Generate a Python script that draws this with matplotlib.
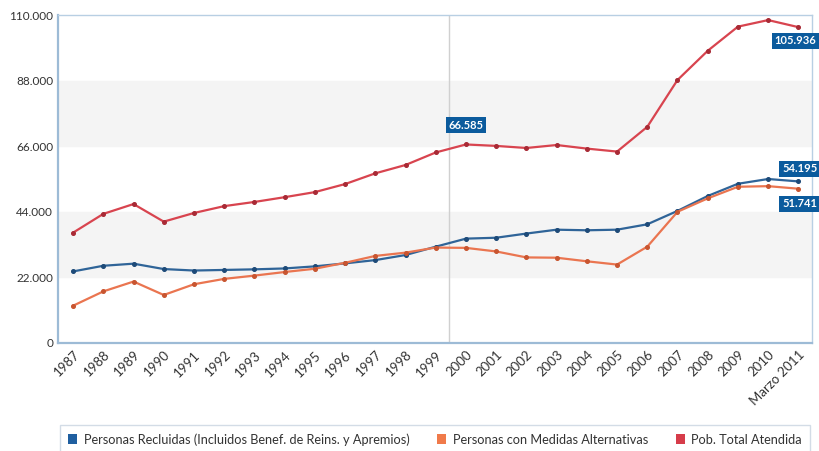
import matplotlib.pyplot as plt
from matplotlib.ticker import FuncFormatter
from matplotlib.patches import Patch

plt.rcParams['font.family'] = ['Lato', 'DejaVu Sans']

years = ['1987', '1988', '1989', '1990', '1991', '1992', '1993', '1994', '1995',
         '1996', '1997', '1998', '1999', '2000', '2001', '2002', '2003', '2004',
         '2005', '2006', '2007', '2008', '2009', '2010', 'Marzo 2011']

recluidas = [24000, 25900, 26600, 24800, 24300, 24500, 24700, 25000, 25700,
             26700, 27800, 29500, 32300, 35000, 35300, 36700, 38000, 37800,
             38000, 39800, 44300, 49300, 53400, 55000, 54195]
alternativas = [12500, 17300, 20600, 16100, 19700, 21500, 22600, 23800, 24900,
                26900, 29200, 30300, 32000, 31900, 30700, 28700, 28600, 27400,
                26300, 32300, 44000, 48500, 52400, 52600, 51741]
total = [37000, 43300, 46600, 40700, 43600, 45900, 47300, 48900, 50600,
         53300, 56900, 59700, 63900, 66585, 66100, 65400, 66400, 65200,
         64200, 72500, 88200, 98000, 106100, 108300, 105936]

series_names = ['Personas Recluidas (Incluidos Benef. de Reins. y Apremios)',
                'Personas con Medidas Alternativas', 'Pob. Total Atendida']
line_colors = ['#2f6498', '#ea7550', '#d8444f']
marker_colors = ['#1d4a78', '#c85530', '#a82a35']
legend_colors = ['#1f5fa0', '#f07a4a', '#d63c4a']
yticks = [0, 22000, 44000, 66000, 88000, 110000]


def miles(v):
    return f'{int(v):,}'.replace(',', '.')


fig = plt.figure(figsize=(8.2, 4.51), dpi=100)
ax = fig.add_axes([0.0707, 0.2395, 0.9195, 0.7272])

x = list(range(len(years)))

# alternating grey bands
ax.axhspan(22000, 44000, color='#f4f4f4', zorder=0)
ax.axhspan(66000, 88000, color='#f4f4f4', zorder=0)
ax.axvline(12.45, color='#d0d0d0', lw=1, zorder=1)

for vals, lc, mc in zip([recluidas, alternativas, total], line_colors, marker_colors):
    ax.plot(x, vals, color=lc, lw=1.6, marker='o', ms=2.6,
            markerfacecolor=mc, markeredgecolor=mc, zorder=3)

ax.set_xlim(-0.5, len(years) - 0.55)
ax.set_ylim(0, 110000)
ax.set_yticks(yticks)
ax.yaxis.set_major_formatter(FuncFormatter(lambda v, p: miles(v)))
ax.set_xticks(x)
ax.set_xticklabels(years, rotation=45, ha='right', rotation_mode='anchor')
ax.tick_params(axis='both', length=0, colors='#333333')
ax.tick_params(axis='y', labelsize=8.5)
ax.tick_params(axis='x', labelsize=9.5, pad=4)

for side in ['left', 'bottom']:
    ax.spines[side].set_color('#9dbbd6')
    ax.spines[side].set_linewidth(1.6)
for side in ['top', 'right']:
    ax.spines[side].set_color('#b8cfe3')
    ax.spines[side].set_linewidth(1.0)

box = dict(boxstyle='square,pad=0.25', fc='#0b5b9d', ec='none')
label_style = dict(color='white', fontsize=8, fontweight='bold', zorder=5,
                   bbox=box, annotation_clip=False)
last = len(years) - 1
ax.annotate(miles(total[13]), (13, total[13]),
            xytext=(0, 10), textcoords='offset points', ha='center', va='bottom', **label_style)
ax.annotate(miles(total[last]), (last, total[last]),
            xytext=(-2, -6), textcoords='offset points', ha='center', va='top', **label_style)
ax.annotate(miles(recluidas[last]), (last, recluidas[last]),
            xytext=(1, 5), textcoords='offset points', ha='center', va='bottom', **label_style)
ax.annotate(miles(alternativas[last]), (last, alternativas[last]),
            xytext=(1, -7), textcoords='offset points', ha='center', va='top', **label_style)

handles = [Patch(facecolor=c, edgecolor='none') for c in legend_colors]
leg = fig.legend(handles, series_names, loc='lower left', bbox_to_anchor=(0.07, -0.012),
                 ncol=3, frameon=True, fontsize=9.2, handlelength=0.7, handleheight=0.9,
                 handletextpad=0.5, columnspacing=2.2, borderpad=0.35)
leg.get_frame().set_edgecolor('#c8d4e0')
leg.get_frame().set_boxstyle('square')
for t in leg.get_texts():
    t.set_color('#333333')

fig.savefig('out.png', dpi=100)
